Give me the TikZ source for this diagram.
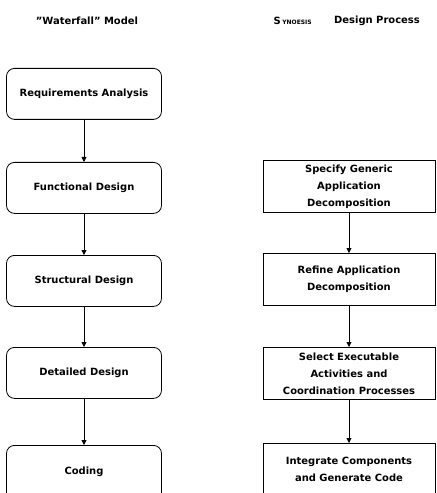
\documentclass[tikz,border=0pt]{standalone}
\usepackage{fontspec}
\setmainfont{DejaVu Sans}
\usetikzlibrary{arrows.meta}
\begin{document}
\begin{tikzpicture}[x=1bp,y=-1bp,
  wbox/.style={draw,line width=0.8bp,rounded corners=8bp,minimum width=155bp,minimum height=51bp,inner sep=0pt,anchor=north,font=\bfseries\fontsize{10}{12}\selectfont},
  sbox/.style={draw,line width=0.8bp,minimum width=172bp,minimum height=52bp,inner sep=0pt,anchor=north,align=center,font=\bfseries\fontsize{10}{17}\selectfont},
  lbl/.style={font=\bfseries\fontsize{10}{12}\selectfont},
  arr/.style={line width=0.8bp,-{Triangle[length=5bp,width=5bp]}}]
\useasboundingbox (0,0) rectangle (437,493);
\clip (0,0) rectangle (437,493);
\node[lbl] (t1) at (87,21) {\symbol{34}Waterfall\symbol{34} Model};
\node[lbl,anchor=west] (t2) at (270,21) {S\,{\fontsize{6}{7}\selectfont YNOESIS}};
\node[lbl] (t3) at (377,21) {Design Process};
\node[wbox] (w1) at (84,68) {Requirements Analysis};
\node[wbox] (w2) at (84,162) {Functional Design};
\node[wbox] (w3) at (84,255) {Structural Design};
\node[wbox] (w4) at (84,347) {Detailed Design};
\node[wbox,minimum height=66bp] (w5) at (84,445) {\raisebox{16bp}{Coding}};
\draw[arr] (w1) -- (w2);
\draw[arr] (w2) -- (w3);
\draw[arr] (w3) -- (w4);
\draw[arr] (w4.south) -- (w5.north);
\node[sbox] (s1) at (349,160) {Specify Generic\\Application\\Decomposition};
\node[sbox] (s2) at (349,253) {Refine Application\\Decomposition};
\node[sbox] (s3) at (349,347) {Select Executable\\Activities and\\Coordination Processes};
\node[sbox,minimum height=69bp] (s4) at (349,443) {Integrate Components\\and Generate Code\\\mbox{}};
\draw[arr] (s1) -- (s2);
\draw[arr] (s2) -- (s3);
\draw[arr] (s3.south) -- (s4.north);
\end{tikzpicture}
\end{document}
